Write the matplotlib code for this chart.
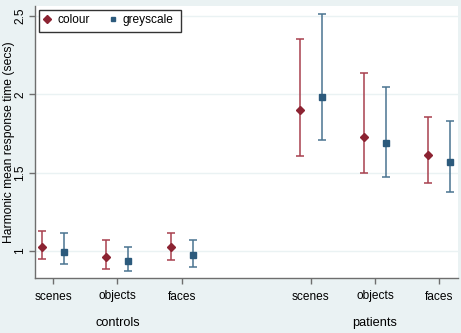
import matplotlib
matplotlib.use("Agg")
import matplotlib.pyplot as plt
import matplotlib.transforms as mtransforms
from matplotlib.patches import Rectangle

plt.rcParams["font.family"] = ["Liberation Sans", "DejaVu Sans"]

groups = ["controls", "patients"]
conditions = ["scenes", "objects", "faces"]
positions = [1, 2, 3, 5, 6, 7]
tick_labels = ["scenes", "objects", "faces", "scenes", "objects", "faces"]
y_ticks = [1, 1.5, 2, 2.5]
y_tick_labels = ["1", "1.5", "2", "2.5"]

colour_mean = [1.026, 0.962, 1.028, 1.900, 1.728, 1.613]
colour_low = [0.947, 0.885, 0.940, 1.608, 1.500, 1.432]
colour_high = [1.128, 1.071, 1.118, 2.353, 2.134, 1.857]

grey_mean = [0.996, 0.938, 0.976, 1.985, 1.687, 1.566]
grey_low = [0.919, 0.870, 0.900, 1.707, 1.474, 1.379]
grey_high = [1.113, 1.028, 1.073, 2.513, 2.049, 1.830]

bg = "#EAF2F3"
red_m = "#8C2332"
red_l = "#A8404E"
blue_m = "#2C5A7C"
blue_l = "#4A7491"

W, H = 461, 333
fig = plt.figure(figsize=(W/100, H/100), dpi=100, facecolor=bg)
ax = fig.add_axes([35/W, (H-278)/H, (458-35)/W, (278-6)/H])
ax.set_facecolor("white")

off = 0.17
xc = [p - off for p in positions]
xg = [p + off for p in positions]

def err(m, lo, hi):
    return [[a - b for a, b in zip(m, lo)], [b - a for a, b in zip(m, hi)]]

ax.errorbar(xc, colour_mean, yerr=err(colour_mean, colour_low, colour_high),
            fmt="none", ecolor=red_l, elinewidth=1.1, capsize=2.6, capthick=1.1, zorder=3)
ax.errorbar(xg, grey_mean, yerr=err(grey_mean, grey_low, grey_high),
            fmt="none", ecolor=blue_l, elinewidth=1.1, capsize=2.6, capthick=1.1, zorder=3)
ax.plot(xc, colour_mean, linestyle="none", marker="D", ms=4.5, color=red_m, zorder=4, label="colour")
ax.plot(xg, grey_mean, linestyle="none", marker="s", ms=4.0, color=blue_m, zorder=4, label="greyscale")

ax.set_xlim(0.72, 7.29)
ax.set_ylim(0.828, 2.564)
ax.set_yticks(y_ticks)
ax.set_yticklabels(y_tick_labels)
ax.set_xticks(positions)
ax.set_xticklabels(tick_labels)
ax.grid(axis="y", color=bg, linewidth=1.0)
ax.set_axisbelow(True)

for s in ["top", "right"]:
    ax.spines[s].set_visible(False)
for s in ["left", "bottom"]:
    ax.spines[s].set_color("#6E6E6E")
    ax.spines[s].set_linewidth(1.0)
ax.tick_params(axis="both", colors="#6E6E6E", length=4, width=1.0, labelcolor="black", labelsize=8.6)
ax.tick_params(axis="x", pad=5)
ax.tick_params(axis="y", pad=6.5)
for lbl in ax.get_yticklabels():
    lbl.set_rotation(90)
    lbl.set_ha("center")
    lbl.set_va("center")
    lbl.set_rotation_mode("anchor")

ax.set_ylabel("Harmonic mean response time (secs)", fontsize=8.7)
ax.yaxis.set_label_coords(-(35 - 15) / 423, 0.5)

trans = mtransforms.blended_transform_factory(ax.transData, fig.transFigure)
ax.text(2, (H-323)/H, groups[0], transform=trans, ha="center", va="center", fontsize=9.2)
ax.text(6, (H-323)/H, groups[1], transform=trans, ha="center", va="center", fontsize=9.2)

# legend box frame
fig.patches.append(Rectangle((39/W, (H-32)/H), (181-39)/W, 22/H, transform=fig.transFigure,
                             facecolor="white", edgecolor="#333333", linewidth=1.0, zorder=5))
leg = fig.legend(*ax.get_legend_handles_labels(), loc="upper left", ncol=2, frameon=False,
                 fontsize=8.6, markerscale=0.8,
                 handlelength=0.5, handletextpad=0.59, columnspacing=1.67,
                 borderpad=0.4, borderaxespad=0.0,
                 bbox_to_anchor=(39.5/W, (H-9.5)/H))
leg.set_zorder(6)

fig.savefig("out.png", dpi=100, facecolor=bg)
